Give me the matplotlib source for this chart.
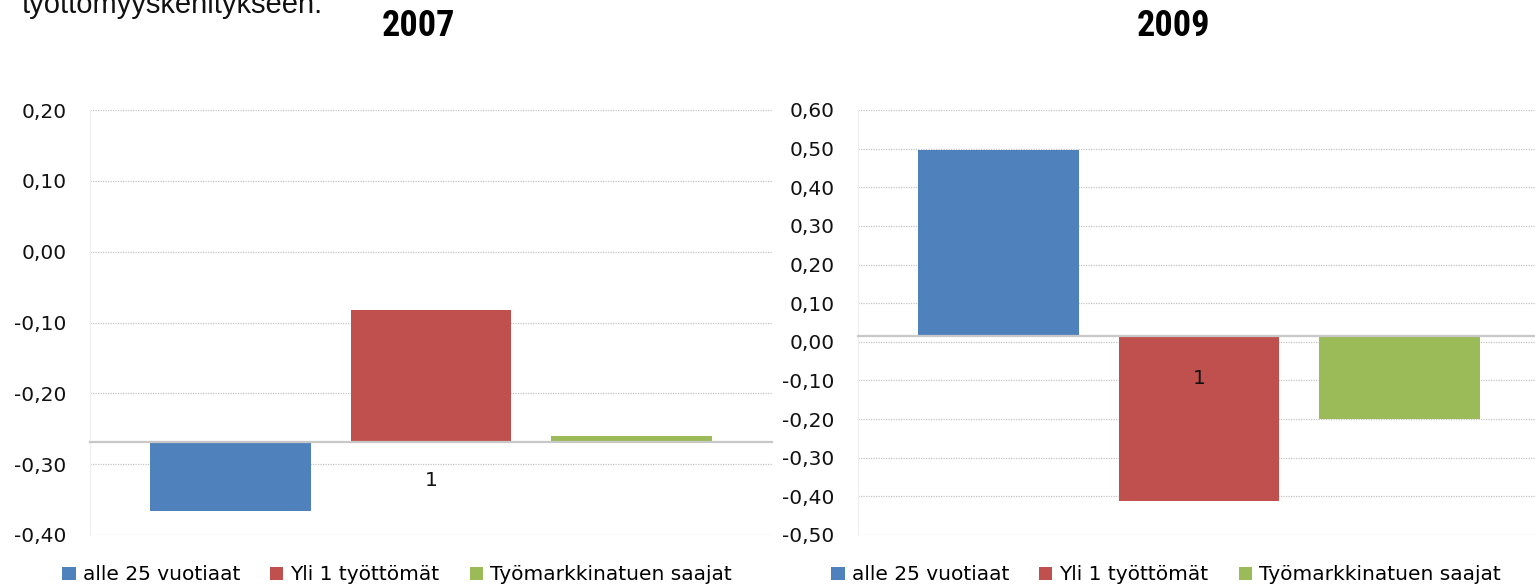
import numpy as np
import matplotlib
matplotlib.use("Agg")
import matplotlib.pyplot as plt
from matplotlib import font_manager
from matplotlib.ticker import MultipleLocator, FuncFormatter

# data
series = ["alle 25 vuotiaat", "Yli 1 työttömät", "Työmarkkinatuen saajat"]
colors = ["#4F81BD", "#C0504D", "#9BBB59"]
years = ["2007", "2009"]
values_2007 = [-0.366, -0.083, -0.260]
values_2009 = [0.497, -0.412, -0.200]
# where the category axis crosses the value axis (bars start there)
cross_2007 = -0.268
cross_2009 = 0.015
ylims = [(-0.40, 0.20), (-0.50, 0.60)]
category = "1"

plt.rcParams["font.family"] = ["DejaVu Sans"]

# narrow bold face for the titles, whatever is installed
installed = {f.name for f in font_manager.fontManager.ttflist}
title_font = "DejaVu Sans"
for cand in ["Liberation Sans Narrow", "DejaVu Sans Condensed", "Roboto Condensed", "Roboto"]:
    if cand in installed:
        title_font = cand
        break
body_font = "Liberation Sans" if "Liberation Sans" in installed else "DejaVu Sans"


def fmt(v, pos):
    if abs(v) < 1e-9:
        v = 0.0
    return "{:.2f}".format(v).replace(".", ",")


fig = plt.figure(figsize=(15.35, 5.87), dpi=100)

# the bottom of a line of body text that the crop cuts through
fig.text(21 / 1535, 1 - 13 / 587, "työttömyyskehitykseen.", fontsize=21,
         family=body_font, ha="left", va="baseline", color="#111111")

panels = [
    (years[0], values_2007, cross_2007, ylims[0], 90, 418, 397, 21.5),
    (years[1], values_2009, cross_2009, ylims[1], 858, 1174, 1166, 23.5),
]

offsets = [-0.294, 0.0, 0.294]
width = 0.235

for year, vals, cross, ylim, left_px, title_px, leg_px, pad in panels:
    ax = fig.add_axes([left_px / 1535, 1 - 535 / 587, 682 / 1535, 425 / 587])
    bars = []
    for off, v, c, name in zip(offsets, vals, colors, series):
        b = ax.bar(off, v - cross, bottom=cross, width=width, color=c,
                   edgecolor="none", label=name, zorder=2)
        bars.append(b)
    ax.set_xlim(-0.5, 0.5)
    ax.set_ylim(*ylim)
    ax.yaxis.set_major_locator(MultipleLocator(0.1))
    ax.yaxis.set_major_formatter(FuncFormatter(fmt))
    ax.grid(axis="y", color="#c4c4c4", linestyle=(0, (1, 1)), linewidth=0.9)
    ax.set_axisbelow(True)
    ax.xaxis.set_zorder(3)
    ax.tick_params(axis="y", length=0, pad=17, labelsize=14.5, labelcolor="#111111")
    ax.set_xticks([0])
    ax.set_xticklabels([category])
    ax.tick_params(axis="x", length=0, pad=pad, labelsize=14.5, labelcolor="#111111")
    ax.spines["top"].set_visible(False)
    ax.spines["right"].set_visible(False)
    ax.spines["left"].set_color("#eeeeee")
    ax.spines["bottom"].set_position(("data", cross))
    ax.spines["bottom"].set_color("#c8c8c8")
    ax.spines["bottom"].set_linewidth(1.6)
    ax.spines["bottom"].set_zorder(3)

    fig.text(title_px / 1535, 1 - 26 / 587, year, fontsize=26, fontweight="bold",
             family=title_font, ha="center", va="center")

    fig.legend(handles=bars, labels=series, loc="center",
               bbox_to_anchor=(leg_px / 1535, 1 - 575 / 587), ncol=3,
               frameon=False, fontsize=14.5, handlelength=0.65,
               handleheight=0.65, handletextpad=0.35, columnspacing=1.5,
               borderpad=0, borderaxespad=0)

fig.savefig("out.png", dpi=100)
